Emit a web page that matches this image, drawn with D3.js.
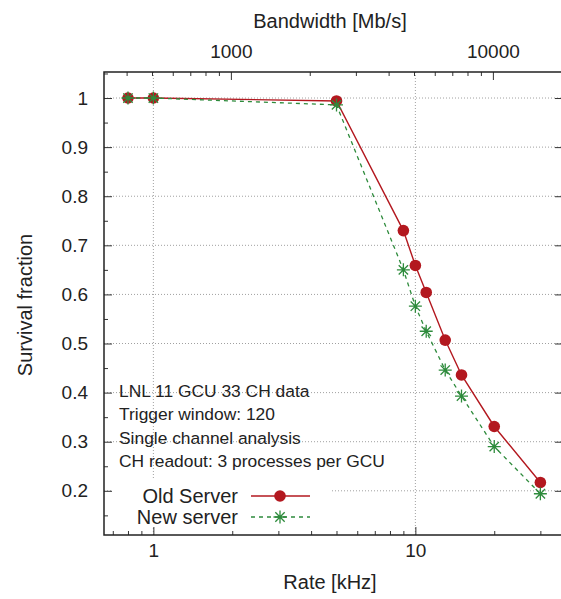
<!DOCTYPE html>
<html lang="en">
<head>
    <meta charset="UTF-8">
    <title>Survival fraction vs rate</title>
    <script src="https://cdn.jsdelivr.net/npm/d3@7"></script>
    <style>
        body { margin: 0; background: #ffffff; }
        text { font-family: "Liberation Sans", Arial, Helvetica, sans-serif; fill: #222222; }
    </style>
</head>
<body>
    <div id="canvas"></div>

    <script>
        // data
        const rates = [0.8, 1, 5, 9, 10, 11, 13, 15, 20, 30];            // kHz
        const oldServer = [1, 1, 0.994, 0.730, 0.659, 0.604, 0.507, 0.436, 0.331, 0.217];
        const newServer = [1, 1, 0.986, 0.650, 0.576, 0.525, 0.446, 0.393, 0.290, 0.194];

        const rateMajor = [1, 10];
        const rateMinor = [0.7, 0.8, 0.9, 2, 3, 4, 5, 6, 7, 8, 9, 20, 30];
        const bwMajor = [1000, 10000];
        const bwMinor = [400, 500, 600, 700, 800, 900, 2000, 3000, 4000, 5000, 6000, 7000, 8000, 9000];
        const yMajor = [0.2, 0.3, 0.4, 0.5, 0.6, 0.7, 0.8, 0.9, 1];
        const yMinor = [0.15, 0.25, 0.35, 0.45, 0.55, 0.65, 0.75, 0.85, 0.95, 1.05];

        const notes = [
            'LNL 11 GCU 33 CH data',
            'Trigger window: 120',
            'Single channel analysis',
            'CH readout: 3 processes per GCU'
        ];
        const seriesNames = ['Old Server', 'New server'];

        const mbPerKhz = 506;   // bandwidth per kHz of rate
    </script>

    <script>
        const width = 561;
        const height = 599;
        const plotLeft = 104, plotRight = 563, plotTop = 72, plotBottom = 535;

        const red = '#b3181f';
        const green = '#2e8b3c';

        const x = d3.scaleLog().domain([0.648, 36.6]).range([plotLeft, plotRight]);
        const x2 = d3.scaleLog().domain(x.domain().map(d => d * mbPerKhz)).range([plotLeft, plotRight]);
        const y = d3.scaleLinear().domain([0.11, 1.053]).range([plotBottom, plotTop]);

        const svg = d3.select('#canvas')
            .append('svg')
            .attr('width', width)
            .attr('height', height);

        // grid
        const grid = svg.append('g')
            .attr('stroke', '#a0a0a0')
            .attr('stroke-width', 1)
            .attr('stroke-dasharray', '1,2');

        grid.selectAll('line.gx')
            .data(rateMajor)
            .enter()
            .append('line')
            .attr('x1', d => x(d)).attr('x2', d => x(d))
            .attr('y1', plotTop).attr('y2', plotBottom);

        grid.selectAll('line.gy')
            .data(yMajor)
            .enter()
            .append('line')
            .attr('x1', plotLeft).attr('x2', plotRight)
            .attr('y1', d => y(d)).attr('y2', d => y(d));

        // key background hides the grid
        svg.append('rect')
            .attr('x', plotLeft + 8).attr('y', 479)
            .attr('width', 218).attr('height', 48)
            .attr('fill', '#ffffff');

        // axes
        const styleAxis = (g) => {
            g.select('.domain').remove();
            g.selectAll('.tick line').attr('stroke', '#333333');
            g.selectAll('.tick text')
                .attr('font-family', '"Liberation Sans", Arial, sans-serif')
                .attr('font-size', 19)
                .attr('fill', '#222222');
        };

        svg.append('g')
            .attr('transform', `translate(0,${plotBottom})`)
            .call(d3.axisBottom(x).tickValues(rateMajor).tickFormat(d3.format('')).tickSize(-8).tickPadding(9))
            .call(styleAxis);

        svg.append('g')
            .attr('transform', `translate(0,${plotBottom})`)
            .call(d3.axisBottom(x).tickValues(rateMinor).tickFormat('').tickSize(-4))
            .call(styleAxis);

        svg.append('g')
            .attr('transform', `translate(0,${plotTop})`)
            .call(d3.axisTop(x2).tickValues(bwMajor).tickFormat(d3.format('')).tickSize(-8).tickPadding(14))
            .call(styleAxis);

        svg.append('g')
            .attr('transform', `translate(0,${plotTop})`)
            .call(d3.axisTop(x2).tickValues(bwMinor).tickFormat('').tickSize(-4))
            .call(styleAxis);

        svg.append('g')
            .attr('transform', `translate(${plotLeft},0)`)
            .call(d3.axisLeft(y).tickValues(yMajor).tickFormat(d3.format('')).tickSize(-8).tickPadding(16))
            .call(styleAxis);

        svg.append('g')
            .attr('transform', `translate(${plotLeft},0)`)
            .call(d3.axisLeft(y).tickValues(yMinor).tickFormat('').tickSize(-4))
            .call(styleAxis);

        svg.append('g')
            .attr('transform', `translate(${plotRight},0)`)
            .call(d3.axisRight(y).tickValues(yMajor).tickFormat('').tickSize(-8))
            .call(styleAxis);

        // frame
        svg.append('rect')
            .attr('x', plotLeft).attr('y', plotTop)
            .attr('width', plotRight - plotLeft).attr('height', plotBottom - plotTop)
            .attr('fill', 'none')
            .attr('stroke', '#222222')
            .attr('stroke-width', 1.5);

        // axis titles
        svg.append('text')
            .attr('x', 330).attr('y', 589)
            .attr('text-anchor', 'middle')
            .attr('font-size', 20)
            .text('Rate [kHz]');

        svg.append('text')
            .attr('x', 330).attr('y', 28)
            .attr('text-anchor', 'middle')
            .attr('font-size', 20)
            .text('Bandwidth [Mb/s]');

        svg.append('text')
            .attr('transform', 'translate(32,305) rotate(-90)')
            .attr('text-anchor', 'middle')
            .attr('font-size', 20)
            .text('Survival fraction');

        // notes
        svg.selectAll('text.note')
            .data(notes)
            .enter()
            .append('text')
            .attr('class', 'note')
            .attr('x', 119)
            .attr('y', (d, i) => 397 + i * 23.3)
            .attr('font-size', 17.4)
            .text(d => d);

        // series
        const line = d3.line()
            .x((d, i) => x(rates[i]))
            .y(d => y(d));

        const asterisk = (sel, s) => {
            sel.append('path')
                .attr('d', `M${-s},0L${s},0M0,${-s}L0,${s}M${-s*0.72},${-s*0.72}L${s*0.72},${s*0.72}M${-s*0.72},${s*0.72}L${s*0.72},${-s*0.72}`)
                .attr('stroke', green)
                .attr('stroke-width', 1.3)
                .attr('fill', 'none');
        };

        svg.append('path')
            .datum(oldServer)
            .attr('d', line)
            .attr('fill', 'none')
            .attr('stroke', red)
            .attr('stroke-width', 1.4);

        svg.selectAll('circle.old')
            .data(oldServer)
            .enter()
            .append('circle')
            .attr('cx', (d, i) => x(rates[i]))
            .attr('cy', d => y(d))
            .attr('r', 5.8)
            .attr('fill', red);

        svg.append('path')
            .datum(newServer)
            .attr('d', line)
            .attr('fill', 'none')
            .attr('stroke', green)
            .attr('stroke-width', 1.3)
            .attr('stroke-dasharray', '4,4');

        svg.selectAll('g.new')
            .data(newServer)
            .enter()
            .append('g')
            .attr('transform', (d, i) => `translate(${x(rates[i])},${y(d)})`)
            .each(function() { asterisk(d3.select(this), 6.5); });

        // key
        const key = svg.append('g');
        const keyY = [496, 517];

        key.selectAll('text')
            .data(seriesNames)
            .enter()
            .append('text')
            .attr('x', 238)
            .attr('y', (d, i) => keyY[i] + 7)
            .attr('text-anchor', 'end')
            .attr('font-size', 20)
            .text(d => d);

        key.append('line')
            .attr('x1', 251).attr('x2', 310)
            .attr('y1', keyY[0]).attr('y2', keyY[0])
            .attr('stroke', red).attr('stroke-width', 1.4);
        key.append('circle')
            .attr('cx', 280).attr('cy', keyY[0]).attr('r', 5.8).attr('fill', red);

        key.append('line')
            .attr('x1', 251).attr('x2', 310)
            .attr('y1', keyY[1]).attr('y2', keyY[1])
            .attr('stroke', green).attr('stroke-width', 1.3)
            .attr('stroke-dasharray', '4,4');
        key.append('g')
            .attr('transform', `translate(280,${keyY[1]})`)
            .call(g => asterisk(g, 6.5));
    </script>
</body>
</html>
